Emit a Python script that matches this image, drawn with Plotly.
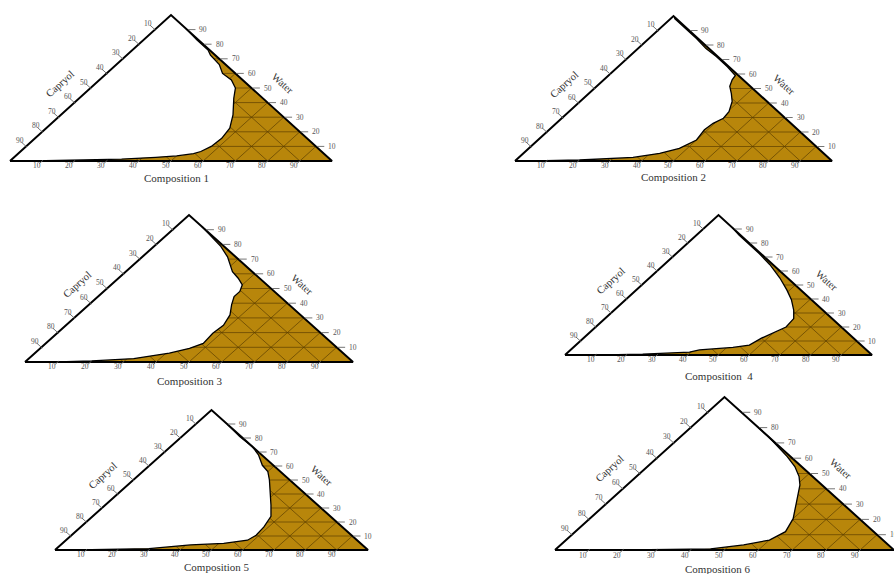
import plotly.graph_objects as go

# ---------------- data (ternary compositions, %) ----------------
titles = ["Composition 1", "Composition 2", "Composition 3",
          "Composition \u00a04", "Composition 5", "Composition 6"]
tick_values = [10, 20, 30, 40, 50, 60, 70, 80, 90]
oil_label = "Capryol"
water_label = "Water"

# boundary of the shaded region: Smix % and Water % (Capryol = 100 - Smix - Water)
smix_1 = [7, 20, 34, 44, 50, 54.5, 56, 57.5, 58, 57, 53.5, 48, 45, 41, 36, 32, 26, 23.5, 16.5, 9]
water_1 = [0, 0.5, 1.3, 2.5, 3.5, 5, 6.5, 10, 15.5, 22.5, 31.5, 43, 50, 55.5, 60, 66, 72.5, 76, 83, 91]

smix_2 = [6, 20, 36, 43, 47.5, 50, 49, 49.5, 51, 50.5, 48, 45, 42, 40.5, 40, 34.5, 27.5, 21.5, 15, 8, 3.5, 1]
water_2 = [0, 0.7, 2.5, 5.3, 8.7, 14.5, 21.5, 26, 29.5, 34, 41, 46.5, 51.5, 56, 59, 65, 72, 77.5, 84.5, 91.5, 96, 98.5]

smix_3 = [10, 20, 32, 41, 45.5, 48, 47.5, 48, 46.5, 43.5, 41.5, 41.5, 40, 36.5, 32.5, 29, 26, 20.5, 14, 8]
water_3 = [0, 0.7, 2.3, 6, 9.3, 12.7, 19.5, 25, 32, 39, 44.5, 48, 52.5, 57, 61.5, 67, 71.5, 78.5, 85.5, 92]

smix_4 = [13, 25, 39.5, 42, 52, 56.5, 58, 60.5, 62, 61.5, 58.5, 54, 49, 42.5, 34.5, 27, 22.5, 14, 9]
water_4 = [0, 0.6, 2.1, 3.6, 5.4, 7.1, 12, 16.5, 20, 26, 32, 39.5, 46.5, 55, 64.5, 72.5, 77, 85.5, 91]

smix_5 = [7, 29.5, 41.5, 51.5, 58, 59, 58.5, 57, 53, 48, 43.5, 40, 36, 31, 26, 18.5, 10.5]
water_5 = [0, 1, 3.6, 4.8, 7, 10.5, 16.5, 24, 32, 41.5, 50, 56, 60.5, 68, 74, 81, 89.5]

smix_6 = [22, 39.5, 45.5, 54, 60, 62, 60, 55.5, 51, 48, 43.5, 38, 31, 26, 20]
water_6 = [0, 0.4, 0.8, 3.3, 6.5, 12, 20.5, 31.5, 42.5, 48, 54.5, 61, 68.5, 74, 80]

smix_all = [smix_1, smix_2, smix_3, smix_4, smix_5, smix_6]
water_all = [water_1, water_2, water_3, water_4, water_5, water_6]

# ---------------- layout (pixel geometry of each triangle) ----------------
FW, FH = 894, 574
# left, top, right, bottom of each triangle in pixels
geom = [(10, 15, 332, 161), (515, 16, 832, 161),
        (25, 215, 353, 362), (565, 215, 872, 355),
        (55, 410, 368, 550), (555, 397, 894, 550)]
title_shift = [(5, 17), (0, 16), (1, 19), (0, 21), (5, 17), (-7, 19)]

BROWN = "#B8860B"
GRID = "#5c3f00"
FONT = "Liberation Serif"


def cart(s, w):
    """ternary (Smix, Water) -> cartesian in triangle units"""
    return s + w / 2.0, w


fig = go.Figure()
annotations = []
layout_axes = {}

for i in range(6):
    l, t, r, b = geom[i]
    W, H = r - l, b - t
    padL = min(30, l)
    padR = min(30, FW - r)
    padT = 8
    padB = 12
    xr = [-padL / W * 100, 100 + padR / W * 100]
    yr = [-padB / H * 100, 100 + padT / H * 100]
    xd = [(l - padL) / FW, (r + padR) / FW]
    yd = [1 - (b + padB) / FH, 1 - (t - padT) / FH]
    xn = "x" if i == 0 else f"x{i + 1}"
    yn = "y" if i == 0 else f"y{i + 1}"
    xk = "xaxis" if i == 0 else f"xaxis{i + 1}"
    yk = "yaxis" if i == 0 else f"yaxis{i + 1}"
    layout_axes[xk] = dict(domain=xd, range=xr, visible=False, fixedrange=True,
                           anchor=yn)
    layout_axes[yk] = dict(domain=yd, range=yr, visible=False, fixedrange=True,
                           anchor=xn)

    common = dict(xaxis=xn, yaxis=yn, hoverinfo="skip", showlegend=False)

    # full triangle in brown
    tx, ty = zip(*[cart(0, 0), cart(100, 0), cart(0, 100), cart(0, 0)])
    fig.add_trace(go.Scatter(x=tx, y=ty, mode="lines", fill="toself",
                             fillcolor=BROWN, line=dict(width=0), **common))

    # grid lines
    gx, gy = [], []
    for k in tick_values:
        for (p, q) in [((k / 2, k), (100 - k / 2, k)),                     # water const
                       (cart(k, 0), cart(k, 100 - k)),                     # smix const
                       (cart(100 - k, 0), cart(0, 100 - k))]:              # oil const
            gx += [p[0], q[0], None]
            gy += [p[1], q[1], None]
    fig.add_trace(go.Scatter(x=gx, y=gy, mode="lines",
                             line=dict(color=GRID, width=0.7), **common))

    # white (non-shaded) region
    bx, by = zip(*[cart(s, w) for s, w in zip(smix_all[i], water_all[i])])
    wx = [0] + list(bx) + [50, 0]
    wy = [0] + list(by) + [100, 0]
    fig.add_trace(go.Scatter(x=wx, y=wy, mode="lines", fill="toself",
                             fillcolor="white", line=dict(width=0), **common))

    # boundary
    fig.add_trace(go.Scatter(x=bx, y=by, mode="lines",
                             line=dict(color="black", width=1.3), **common))

    # triangle outline
    fig.add_trace(go.Scatter(x=tx, y=ty, mode="lines",
                             line=dict(color="black", width=2), **common))

    # tick marks
    kx, ky = [], []
    for v in tick_values:
        # bottom (Smix): extension of constant-Smix line
        p, q = cart(v, 0.5), cart(v, -1.8)
        kx += [p[0], q[0], None]; ky += [p[1], q[1], None]
        # left (Capryol): extension of constant-oil line
        w0 = 100 - v
        kx += [w0 / 2 + 0.25, w0 / 2 - 1.5, None]; ky += [w0 - 0.5, w0 + 3, None]
        # right (Water): horizontal dash
        e = 100 - v / 2
        kx += [e + 0.3, e + 2.6, None]; ky += [v, v, None]
    fig.add_trace(go.Scatter(x=kx, y=ky, mode="lines",
                             line=dict(color="#666", width=0.9), **common))

    tfont = dict(family=FONT, size=7.5, color="#555")
    for v in tick_values:
        lx, ly = cart(v, -3.3)
        annotations.append(dict(x=lx, y=ly, xref=xn, yref=yn, text=str(v),
                                showarrow=False, font=tfont,
                                xanchor="center", yanchor="middle"))
        w0 = 100 - v
        annotations.append(dict(x=w0 / 2 - 2.0, y=w0 + 4.0, xref=xn, yref=yn,
                                text=str(v), showarrow=False, font=tfont,
                                xanchor="center", yanchor="middle"))
        annotations.append(dict(x=100 - v / 2 + 3.2, y=v, xref=xn, yref=yn,
                                text=str(v), showarrow=False, font=tfont,
                                xanchor="left", yanchor="middle"))

    lab_font = dict(family=FONT, size=10.5, color="#333")
    annotations.append(dict(x=26.5, y=53, xref=xn, yref=yn, text=oil_label,
                            showarrow=False, font=lab_font, textangle=-42,
                            xshift=-35, xanchor="center", yanchor="middle"))
    annotations.append(dict(x=73.5, y=53, xref=xn, yref=yn, text=water_label,
                            showarrow=False, font=lab_font, textangle=42,
                            xshift=36, xanchor="center", yanchor="middle"))
    dxs, dys = title_shift[i]
    annotations.append(dict(x=50, y=0, xref=xn, yref=yn, text=titles[i],
                            showarrow=False,
                            font=dict(family=FONT, size=11, color="#333"),
                            xshift=dxs, yshift=-dys,
                            xanchor="center", yanchor="middle"))

fig.update_layout(width=FW, height=FH, margin=dict(l=0, r=0, t=0, b=0),
                  paper_bgcolor="white", plot_bgcolor="white",
                  annotations=annotations, **layout_axes)

fig.write_html("out.html",
               config={"displayModeBar": False, "staticPlot": True},
               post_script="document.body.style.margin='0';"
                           "document.body.style.padding='0';"
                           "document.body.style.overflow='hidden';")
